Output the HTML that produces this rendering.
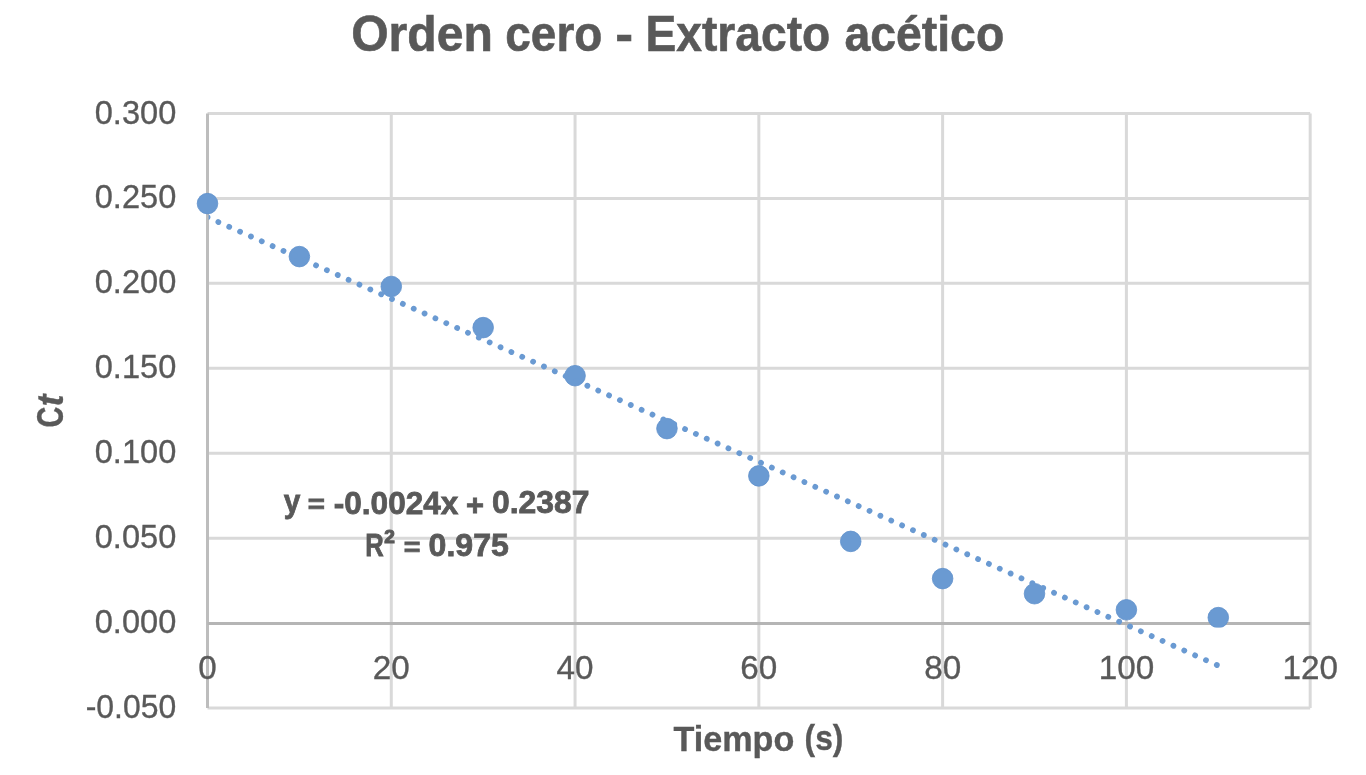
<!DOCTYPE html><html><head><meta charset="utf-8"><style>html,body{margin:0;padding:0;background:#fff;overflow:hidden}svg{display:block;will-change:transform}text{font-family:"Liberation Sans",sans-serif}</style></head><body>
<svg width="1366" height="775" viewBox="0 0 1366 775">
<rect width="1366" height="775" fill="#fff"/>
<path d="M391.28 113.50V708.01M575.06 113.50V708.01M758.84 113.50V708.01M942.62 113.50V708.01M1126.40 113.50V708.01M1310.18 113.50V708.01M207.50 113.50H1310.18M207.50 198.43H1310.18M207.50 283.36H1310.18M207.50 368.29H1310.18M207.50 453.22H1310.18M207.50 538.15H1310.18M207.50 708.01H1310.18" stroke="#D9D9D9" stroke-width="3.0" fill="none"/>
<path d="M207.50 113.50V708.01" stroke="#BDBDBD" stroke-width="3.0" fill="none"/>
<path d="M207.50 623.43H1310.18" stroke="#B5B5B5" stroke-width="3.0" fill="none"/>
<text x="176.28" y="123.55" font-size="33.20" fill="#595959" stroke="#595959" stroke-width="0.35" text-anchor="end" textLength="81.56" lengthAdjust="spacingAndGlyphs">0.300</text>
<text x="176.28" y="208.48" font-size="33.20" fill="#595959" stroke="#595959" stroke-width="0.35" text-anchor="end" textLength="81.56" lengthAdjust="spacingAndGlyphs">0.250</text>
<text x="176.28" y="293.41" font-size="33.20" fill="#595959" stroke="#595959" stroke-width="0.35" text-anchor="end" textLength="81.56" lengthAdjust="spacingAndGlyphs">0.200</text>
<text x="176.28" y="378.34" font-size="33.20" fill="#595959" stroke="#595959" stroke-width="0.35" text-anchor="end" textLength="81.56" lengthAdjust="spacingAndGlyphs">0.150</text>
<text x="176.28" y="463.27" font-size="33.20" fill="#595959" stroke="#595959" stroke-width="0.35" text-anchor="end" textLength="81.56" lengthAdjust="spacingAndGlyphs">0.100</text>
<text x="176.28" y="548.20" font-size="33.20" fill="#595959" stroke="#595959" stroke-width="0.35" text-anchor="end" textLength="81.56" lengthAdjust="spacingAndGlyphs">0.050</text>
<text x="176.28" y="633.13" font-size="33.20" fill="#595959" stroke="#595959" stroke-width="0.35" text-anchor="end" textLength="81.56" lengthAdjust="spacingAndGlyphs">0.000</text>
<text x="176.28" y="718.06" font-size="33.20" fill="#595959" stroke="#595959" stroke-width="0.35" text-anchor="end" textLength="90.61" lengthAdjust="spacingAndGlyphs">-0.050</text>
<text x="207.52" y="678.56" font-size="33.20" fill="#595959" stroke="#595959" stroke-width="0.35" text-anchor="middle" textLength="18.49" lengthAdjust="spacingAndGlyphs">0</text>
<text x="391.30" y="678.56" font-size="33.20" fill="#595959" stroke="#595959" stroke-width="0.35" text-anchor="middle" textLength="36.99" lengthAdjust="spacingAndGlyphs">20</text>
<text x="575.08" y="678.56" font-size="33.20" fill="#595959" stroke="#595959" stroke-width="0.35" text-anchor="middle" textLength="36.99" lengthAdjust="spacingAndGlyphs">40</text>
<text x="758.86" y="678.56" font-size="33.20" fill="#595959" stroke="#595959" stroke-width="0.35" text-anchor="middle" textLength="36.99" lengthAdjust="spacingAndGlyphs">60</text>
<text x="942.64" y="678.56" font-size="33.20" fill="#595959" stroke="#595959" stroke-width="0.35" text-anchor="middle" textLength="36.99" lengthAdjust="spacingAndGlyphs">80</text>
<text x="1126.42" y="678.56" font-size="33.20" fill="#595959" stroke="#595959" stroke-width="0.35" text-anchor="middle" textLength="55.48" lengthAdjust="spacingAndGlyphs">100</text>
<text x="1310.20" y="678.56" font-size="33.20" fill="#595959" stroke="#595959" stroke-width="0.35" text-anchor="middle" textLength="55.48" lengthAdjust="spacingAndGlyphs">120</text>
<defs><clipPath id="c"><rect x="0" y="0" width="1366" height="627.5"/></clipPath><clipPath id="pc"><rect x="208.6" y="0" width="1366" height="775"/></clipPath></defs>
<circle cx="207.50" cy="203.60" r="10.3" fill="#6A9AD2" stroke="#6090CC" stroke-width="0.8"/>
<circle cx="299.39" cy="256.60" r="10.3" fill="#6A9AD2" stroke="#6090CC" stroke-width="0.8"/>
<circle cx="391.28" cy="286.50" r="10.3" fill="#6A9AD2" stroke="#6090CC" stroke-width="0.8"/>
<circle cx="483.17" cy="327.60" r="10.3" fill="#6A9AD2" stroke="#6090CC" stroke-width="0.8"/>
<circle cx="575.06" cy="375.70" r="10.3" fill="#6A9AD2" stroke="#6090CC" stroke-width="0.8"/>
<circle cx="666.95" cy="428.60" r="10.3" fill="#6A9AD2" stroke="#6090CC" stroke-width="0.8"/>
<circle cx="758.84" cy="475.90" r="10.3" fill="#6A9AD2" stroke="#6090CC" stroke-width="0.8"/>
<circle cx="850.73" cy="541.40" r="10.3" fill="#6A9AD2" stroke="#6090CC" stroke-width="0.8"/>
<circle cx="942.62" cy="578.60" r="10.3" fill="#6A9AD2" stroke="#6090CC" stroke-width="0.8"/>
<circle cx="1034.51" cy="593.70" r="10.3" fill="#6A9AD2" stroke="#6090CC" stroke-width="0.8"/>
<circle cx="1126.40" cy="609.80" r="10.3" fill="#6A9AD2" stroke="#6090CC" stroke-width="0.8"/>
<circle cx="1218.29" cy="617.60" r="10.3" fill="#6A9AD2" stroke="#6090CC" stroke-width="0.8" clip-path="url(#c)"/>
<path d="M207.50 217.22L1218.29 665.65" stroke="#6A9AD2" stroke-width="5.8" stroke-linecap="round" stroke-dasharray="0.01 11.863" fill="none" clip-path="url(#pc)"/>
<text x="351.15" y="50.98" font-size="50.80" font-weight="bold" fill="#595959" stroke="#595959" stroke-width="0.6" textLength="141.70" lengthAdjust="spacingAndGlyphs">Orden</text>
<text x="505.27" y="51.07" font-size="49.60" font-weight="bold" fill="#595959" stroke="#595959" stroke-width="0.6" textLength="97.07" lengthAdjust="spacingAndGlyphs">cero</text>
<text x="615.39" y="50.70" font-size="50.50" font-weight="bold" fill="#595959" stroke="#595959" stroke-width="0.6" textLength="17.88" lengthAdjust="spacingAndGlyphs">-</text>
<text x="645.53" y="50.95" font-size="50.30" font-weight="bold" fill="#595959" stroke="#595959" stroke-width="0.6" textLength="184.77" lengthAdjust="spacingAndGlyphs">Extracto</text>
<text x="844.40" y="50.88" font-size="49.60" font-weight="bold" fill="#595959" stroke="#595959" stroke-width="0.6" textLength="159.84" lengthAdjust="spacingAndGlyphs">acético</text>
<text x="673.38" y="750.70" font-size="35.00" font-weight="bold" fill="#595959" stroke="#595959" stroke-width="0.35" textLength="120.90" lengthAdjust="spacingAndGlyphs">Tiempo</text>
<text x="804.59" y="749.93" font-size="35.00" font-weight="bold" fill="#595959" stroke="#595959" stroke-width="0.35" textLength="38.83" lengthAdjust="spacingAndGlyphs">(s)</text>
<text transform="translate(63.23,427.47) rotate(-90)" font-size="37.20" font-weight="bold" fill="#595959" stroke="#595959" stroke-width="0.35" textLength="20.91" lengthAdjust="spacingAndGlyphs">C</text>
<text transform="translate(63.09,406.30) rotate(-90)" font-size="37.20" font-weight="bold" font-style="italic" fill="#595959" stroke="#595959" stroke-width="0.35" textLength="11.65" lengthAdjust="spacingAndGlyphs">t</text>
<text x="283.86" y="512.40" font-size="31.90" font-weight="bold" fill="#595959" stroke="#595959" stroke-width="0.8" textLength="16.61" lengthAdjust="spacingAndGlyphs">y</text>
<text x="307.88" y="513.42" font-size="24.95" font-weight="bold" fill="#595959" stroke="#595959" stroke-width="0.8" textLength="17.14" lengthAdjust="spacingAndGlyphs">=</text>
<text x="333.78" y="513.59" font-size="31.90" font-weight="bold" fill="#595959" stroke="#595959" stroke-width="0.8" textLength="124.67" lengthAdjust="spacingAndGlyphs">-0.0024x</text>
<text x="466.13" y="514.77" font-size="30.19" font-weight="bold" fill="#595959" stroke="#595959" stroke-width="0.8" textLength="18.01" lengthAdjust="spacingAndGlyphs">+</text>
<text x="492.03" y="513.39" font-size="31.90" font-weight="bold" fill="#595959" stroke="#595959" stroke-width="0.8" textLength="97.49" lengthAdjust="spacingAndGlyphs">0.2387</text>
<text x="365.29" y="556.47" font-size="31.60" font-weight="bold" fill="#595959" stroke="#595959" stroke-width="0.8" textLength="18.48" lengthAdjust="spacingAndGlyphs">R</text>
<text x="384.30" y="543.45" font-size="17.95" font-weight="bold" fill="#595959" stroke="#595959" stroke-width="1.1" textLength="10.60" lengthAdjust="spacingAndGlyphs">2</text>
<text x="403.75" y="555.57" font-size="25.47" font-weight="bold" fill="#595959" stroke="#595959" stroke-width="0.8" textLength="16.67" lengthAdjust="spacingAndGlyphs">=</text>
<text x="428.55" y="556.31" font-size="31.60" font-weight="bold" fill="#595959" stroke="#595959" stroke-width="0.8" textLength="80.32" lengthAdjust="spacingAndGlyphs">0.975</text>
</svg></body></html>
